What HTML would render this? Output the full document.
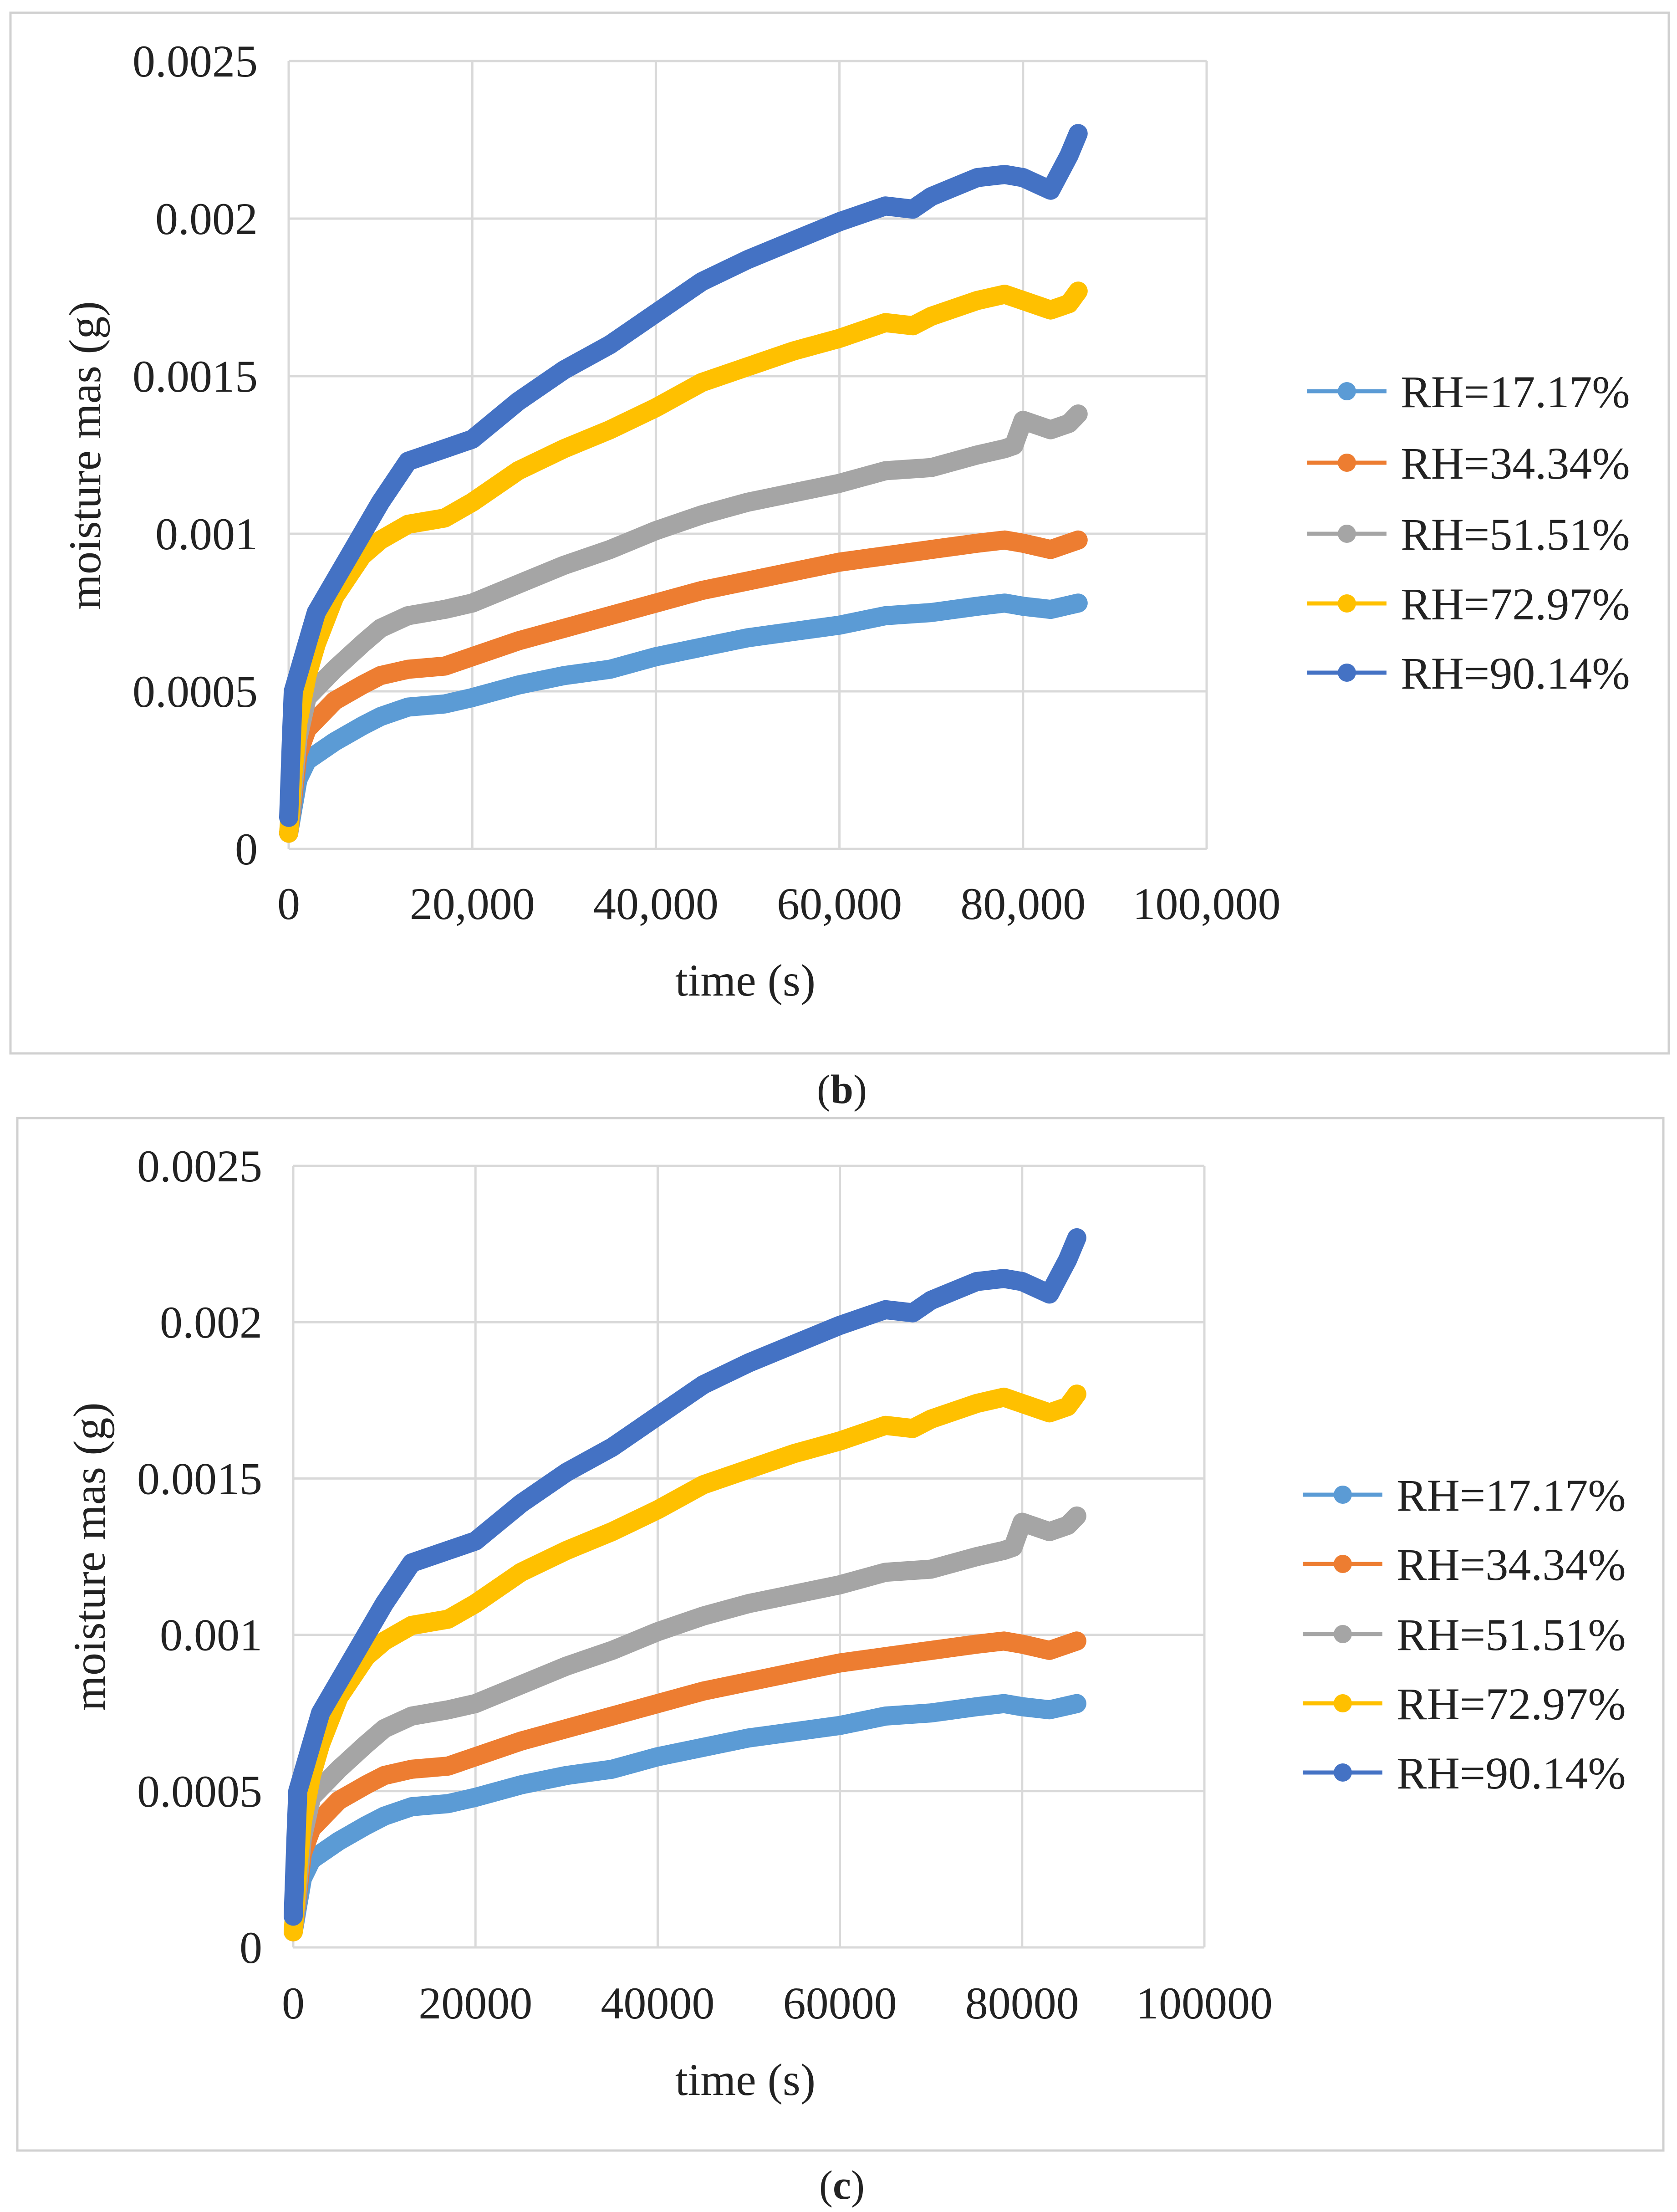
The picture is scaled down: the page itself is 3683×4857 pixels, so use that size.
<!DOCTYPE html>
<html><head><meta charset="utf-8"><style>
html,body{margin:0;padding:0;background:#fff}
svg{display:block}
text{font-family:"Liberation Serif",serif;fill:#222}
</style></head><body>
<svg id="root" width="3683" height="4857" viewBox="0 0 3683 4857" xmlns="http://www.w3.org/2000/svg"></svg>
<script>
const seriesNames=["RH=17.17%","RH=34.34%","RH=51.51%","RH=72.97%","RH=90.14%"];
const seriesColors=["#5b9bd5","#ed7d31","#a5a5a5","#ffc000","#4472c4"];
const yTicks=[0,0.0005,0.001,0.0015,0.002,0.0025];
const yTickLabels=["0","0.0005","0.001","0.0015","0.002","0.0025"];
const xTicks=[0,20000,40000,60000,80000,100000];
const xTickLabelsB=["0","20,000","40,000","60,000","80,000","100,000"];
const xTickLabelsC=["0","20000","40000","60000","80000","100000"];
const xs17=[0,1,2,5,8,10,13,17,20,25,30,35,40,45,50,55,60,65,70,75,78,80,83,86];
const ys17=[0.05,0.22,0.28,0.34,0.39,0.42,0.45,0.46,0.48,0.52,0.55,0.57,0.61,0.64,0.67,0.69,0.71,0.74,0.75,0.77,0.78,0.77,0.76,0.78];
const xs34=[0,1,2,5,8,10,13,17,20,25,30,35,40,45,50,55,60,65,70,75,78,80,83,86];
const ys34=[0.05,0.3,0.38,0.47,0.52,0.55,0.57,0.58,0.61,0.66,0.7,0.74,0.78,0.82,0.85,0.88,0.91,0.93,0.95,0.97,0.98,0.97,0.95,0.98];
const xs51=[0,1,2,5,8,10,13,17,20,25,30,35,40,45,50,55,60,65,70,75,78,79,80,83,85,86];
const ys51=[0.05,0.35,0.48,0.57,0.65,0.7,0.74,0.76,0.78,0.84,0.9,0.95,1.01,1.06,1.1,1.13,1.16,1.2,1.21,1.25,1.27,1.28,1.36,1.33,1.35,1.38];
const xs72=[0,0.5,1,2,3,5,8,10,13,17,20,25,30,35,40,45,50,55,60,65,68,70,75,78,80,83,85,86];
const ys72=[0.05,0.25,0.4,0.55,0.65,0.8,0.93,0.98,1.03,1.05,1.1,1.2,1.27,1.33,1.4,1.48,1.53,1.58,1.62,1.67,1.66,1.69,1.74,1.76,1.74,1.71,1.73,1.77];
const xs90=[0,0.3,0.5,1,2,3,5,8,10,13,15,17,20,25,30,35,40,45,50,55,60,65,68,70,75,78,80,83,85,86];
const ys90=[0.1,0.35,0.5,0.55,0.65,0.75,0.85,1.0,1.1,1.23,1.25,1.27,1.3,1.42,1.52,1.6,1.7,1.8,1.87,1.93,1.99,2.04,2.03,2.07,2.13,2.14,2.13,2.09,2.2,2.27];
const seriesX=[xs17,xs34,xs51,xs72,xs90];
const seriesY=[ys17,ys34,ys51,ys72,ys90];

const NS="http://www.w3.org/2000/svg";
const root=document.getElementById('root');
function mk(tag,attrs,parent){const e=document.createElementNS(NS,tag);for(const k in attrs)e.setAttribute(k,attrs[k]);parent.appendChild(e);return e;}

function drawChart(g){
  const grp=mk('g',{},root);
  
  
  const fr=mk('rect',{x:g.fx,y:g.fy,width:g.fw,height:g.fh,fill:'#fff',stroke:'#d0d0d0','stroke-width':5},grp);
  
  
  const sx=v=>g.L+(v-0)/100000*(g.R-g.L);
  const sy=v=>g.B-(v/0.0025)*(g.B-g.T);
  yTicks.forEach((t,i)=>{
    const ln=mk('line',{x1:g.L,x2:g.R,y1:sy(t),y2:sy(t),stroke:'#d9d9d9','stroke-width':5},grp);
    
    
    const tx=mk('text',{x:g.L-68,y:sy(t)+34,'text-anchor':'end','font-size':100},grp);
    tx.textContent=yTickLabels[i];
    
    
  });
  xTicks.forEach((t,i)=>{
    const ln=mk('line',{x1:sx(t),x2:sx(t),y1:g.T,y2:g.B,stroke:'#d9d9d9','stroke-width':5},grp);
    
    
    const tx=mk('text',{x:sx(t),y:g.xly,'text-anchor':'middle','font-size':100},grp);
    tx.textContent=g.xl[i];
    
    
  });
  const xt=mk('text',{x:1637,y:g.xty,'text-anchor':'middle','font-size':100},grp);
  xt.textContent='time (s)';
  
  
  const yt=mk('text',{x:0,y:0,'text-anchor':'middle','font-size':100,transform:`translate(${g.ytx},${g.yty}) rotate(-90)`},grp);
  yt.textContent='moisture mas (g)';
  
  
  for(let s=0;s<5;s++){
    const pts=seriesX[s].map((x,i)=>sx(x*1000).toFixed(1)+','+sy(seriesY[s][i]/1000).toFixed(1)).join(' ');
    const pl=mk('polyline',{points:pts,fill:'none',stroke:seriesColors[s],'stroke-width':42,'stroke-linejoin':'round','stroke-linecap':'round'},grp);
    
    
    const ly=g.legY[s];
    const lg=mk('g',{},grp);
    
    
    mk('line',{x1:g.legX,x2:g.legX+175,y1:ly,y2:ly,stroke:seriesColors[s],'stroke-width':9},lg);
    mk('circle',{cx:g.legX+88,cy:ly,r:20,fill:seriesColors[s]},lg);
    const lt=mk('text',{x:g.legX+206,y:ly+35,'font-size':100},lg);
    lt.textContent=seriesNames[s];
  }
  const cap=mk('text',{x:1849,y:g.capy,'text-anchor':'middle','font-size':90},root);
  
  
  const t1=mk('tspan',{},cap); t1.textContent='(';
  const t2=mk('tspan',{'font-weight':'bold'},cap); t2.textContent=g.id;
  const t3=mk('tspan',{},cap); t3.textContent=')';
}
drawChart({id:'b',fx:23,fy:28,fw:3642,fh:2285,L:634,R:2650,T:134,B:1864,xl:xTickLabelsB,xly:2018,xty:2186,ytx:220,yty:1000,legX:2870,legY:[859,1016,1172,1325,1477],capy:2422});
drawChart({id:'c',fx:38,fy:2455,fw:3615,fh:2267,L:644,R:2645,T:2560,B:4276,xl:xTickLabelsC,xly:4432,xty:4600,ytx:230,yty:3418,legX:2861,legY:[3282,3434,3588,3740,3892],capy:4828});
</script>
</body></html>
